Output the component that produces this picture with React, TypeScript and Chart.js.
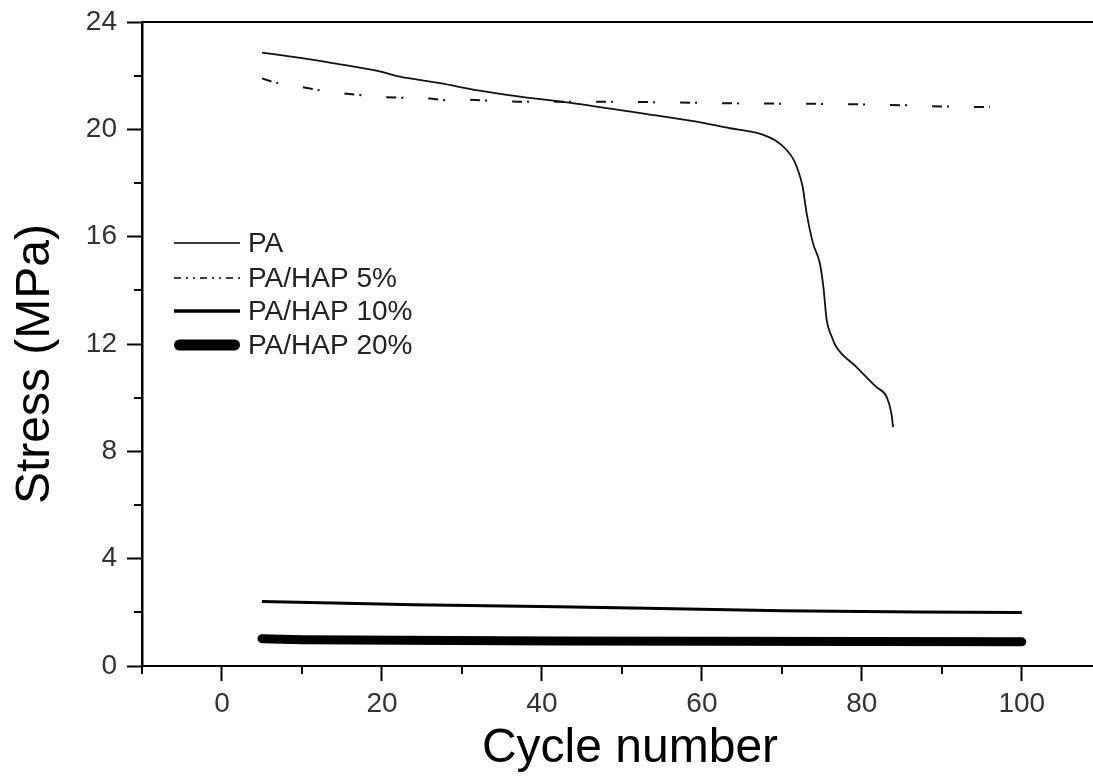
import React, { useEffect, useRef } from 'react';
import { Chart, registerables } from 'chart.js';

Chart.register(...registerables);

// ---- data ----
const paX = [5, 10, 14, 20, 22.25, 27.25, 32, 37.25, 44, 54, 60, 63.5, 66, 67.6, 69.2, 70.6, 71.5, 72.1, 72.6, 73.1, 73.9, 74.75, 75.2, 75.6, 76.2, 76.8, 79.3, 81.8, 83.1, 83.7, 83.9];
const paY = [22.86, 22.65, 22.46, 22.14, 21.96, 21.72, 21.45, 21.22, 20.97, 20.53, 20.25, 20.04, 19.92, 19.8, 19.58, 19.23, 18.85, 18.4, 17.86, 16.87, 15.75, 15.0, 14.1, 12.9, 12.3, 11.9, 11.15, 10.4, 10.03, 9.4, 8.9];

const hap5X = [5, 6.5, 10, 12, 15, 17, 20, 22, 26, 28, 31, 33, 37, 47, 52, 63, 74, 80, 85, 90, 96];
const hap5Y = [21.9, 21.75, 21.57, 21.47, 21.35, 21.28, 21.2, 21.18, 21.15, 21.08, 21.1, 21.07, 21.03, 21.03, 21.02, 20.97, 20.95, 20.93, 20.9, 20.85, 20.83];

const hap10X = [5, 11, 24, 42, 53, 70, 87, 100];
const hap10Y = [2.4, 2.37, 2.28, 2.21, 2.15, 2.06, 2.01, 1.99];

const hap20X = [5, 10, 41.6, 100];
const hap20Y = [1.02, 0.98, 0.93, 0.9];

const seriesLabels = ['PA', 'PA/HAP 5%', 'PA/HAP 10%', 'PA/HAP 20%'];

const xMajorTicks = [0, 20, 40, 60, 80, 100];
const xMinorTicks = [-10, 10, 30, 50, 70, 90];
const yMajorTicks = [0, 4, 8, 12, 16, 20, 24];
const yMinorTicks = [2, 6, 10, 14, 18, 22];

const xTitle = 'Cycle number';
const yTitle = 'Stress (MPa)';

const FONT = '"Liberation Sans", Arial, Helvetica, sans-serif';

const toPoints = (xs: number[], ys: number[]) => xs.map((x, i) => ({ x, y: ys[i] }));

// legend styles (visual only)
const legendStyles = [
  { width: 1.6, dash: [] as number[], cap: 'butt' as CanvasLineCap },
  { width: 1.6, dash: [7, 5, 2, 5, 2, 5], cap: 'butt' as CanvasLineCap },
  { width: 3.5, dash: [] as number[], cap: 'butt' as CanvasLineCap },
  { width: 11, dash: [] as number[], cap: 'round' as CanvasLineCap },
];

const decorPlugin = {
  id: 'decor',
  afterDraw(chart: any) {
    const ctx: CanvasRenderingContext2D = chart.ctx;
    const { left, right, top, bottom } = chart.chartArea;
    const xs = chart.scales.x;
    const ys = chart.scales.y;
    ctx.save();
    ctx.strokeStyle = '#000';
    // top frame line
    ctx.lineWidth = 2;
    ctx.beginPath();
    ctx.moveTo(left, top);
    ctx.lineTo(right, top);
    ctx.stroke();
    // minor ticks
    ctx.lineWidth = 2;
    ctx.beginPath();
    xMinorTicks.forEach((v) => {
      const px = Math.round(xs.getPixelForValue(v));
      ctx.moveTo(px, bottom);
      ctx.lineTo(px, bottom + 8);
    });
    yMinorTicks.forEach((v) => {
      const py = Math.round(ys.getPixelForValue(v));
      ctx.moveTo(left, py);
      ctx.lineTo(left - 8, py);
    });
    ctx.stroke();

    // axis titles
    ctx.fillStyle = '#000';
    ctx.font = `48px ${FONT}`;
    ctx.textAlign = 'center';
    ctx.textBaseline = 'middle';
    ctx.fillText(xTitle, 630, 749);
    ctx.save();
    ctx.translate(36, 364);
    ctx.rotate(-Math.PI / 2);
    ctx.fillText(yTitle, 0, 0);
    ctx.restore();

    // legend
    const rows = [243, 278, 311, 345];
    const lx0 = 174;
    const lx1 = 240;
    const tx = 248;
    ctx.font = `28px ${FONT}`;
    ctx.textBaseline = 'middle';
    ctx.textAlign = 'left';
    seriesLabels.forEach((label, i) => {
      const st = legendStyles[i];
      const y = rows[i];
      ctx.save();
      ctx.lineWidth = st.width;
      ctx.lineCap = st.cap;
      ctx.setLineDash(st.dash);
      ctx.strokeStyle = '#000';
      ctx.beginPath();
      ctx.moveTo(lx0 + (st.cap === 'round' ? st.width / 2 : 0), y);
      ctx.lineTo(lx1 - (st.cap === 'round' ? st.width / 2 : 0), y);
      ctx.stroke();
      ctx.restore();
      ctx.fillStyle = '#222';
      ctx.fillText(label, tx, y + 1);
    });
    ctx.restore();
  },
};

export default function App() {
  const canvasRef = useRef<HTMLCanvasElement | null>(null);

  useEffect(() => {
    document.body.style.margin = '0';
    const canvas = canvasRef.current;
    if (!canvas) return;
    Chart.defaults.font.family = FONT;

    const chart = new Chart(canvas, {
      type: 'line',
      data: {
        datasets: [
          {
            label: seriesLabels[0],
            data: toPoints(paX, paY),
            borderColor: '#111',
            borderWidth: 1.8,
            pointRadius: 0,
            cubicInterpolationMode: 'monotone',
          },
          {
            label: seriesLabels[1],
            data: toPoints(hap5X, hap5Y),
            borderColor: '#111',
            borderWidth: 2,
            borderDash: [10, 5, 2, 25],
            pointRadius: 0,
            tension: 0,
          },
          {
            label: seriesLabels[2],
            data: toPoints(hap10X, hap10Y),
            borderColor: '#000',
            borderWidth: 3,
            pointRadius: 0,
            tension: 0,
          },
          {
            label: seriesLabels[3],
            data: toPoints(hap20X, hap20Y),
            borderColor: '#000',
            borderWidth: 9,
            borderCapStyle: 'round',
            borderJoinStyle: 'round',
            pointRadius: 0,
            tension: 0,
          },
        ],
      },
      options: {
        responsive: false,
        maintainAspectRatio: false,
        animation: false,
        devicePixelRatio: 1,
        layout: { padding: { top: 22, right: 0, left: 0, bottom: 0 } },
        plugins: {
          legend: { display: false },
          tooltip: { enabled: false },
        },
        scales: {
          x: {
            type: 'linear',
            min: -10,
            max: 108.9,
            afterBuildTicks: (s: any) => {
              s.ticks = xMajorTicks.map((v) => ({ value: v }));
            },
            afterFit: (s: any) => {
              s.height = 110;
              s.paddingLeft = 0;
              s.paddingRight = 0;
            },
            grid: {
              display: true,
              drawOnChartArea: false,
              drawTicks: true,
              tickLength: 15,
              tickWidth: 2,
              tickColor: '#000',
            },
            border: { display: true, color: '#000', width: 2 },
            ticks: {
              autoSkip: false,
              maxRotation: 0,
              color: '#333',
              padding: 6,
              font: { size: 28, family: FONT },
            },
            title: { display: false },
          },
          y: {
            type: 'linear',
            min: 0,
            max: 24,
            afterBuildTicks: (s: any) => {
              s.ticks = yMajorTicks.map((v) => ({ value: v }));
            },
            afterFit: (s: any) => {
              s.width = 142;
              s.paddingTop = 0;
              s.paddingBottom = 0;
            },
            grid: {
              display: true,
              drawOnChartArea: false,
              drawTicks: true,
              tickLength: 15,
              tickWidth: 2,
              tickColor: '#000',
            },
            border: { display: true, color: '#000', width: 2.5 },
            ticks: {
              color: '#333',
              padding: 10,
              font: { size: 28, family: FONT },
            },
            title: { display: false },
          },
        },
      },
      plugins: [decorPlugin],
    });

    return () => {
      chart.destroy();
    };
  }, []);

  return (
    <div style={{ width: 1093, height: 776, position: 'relative', background: '#fff' }}>
      <canvas ref={canvasRef} width={1093} height={776} style={{ width: 1093, height: 776, display: 'block' }} />
    </div>
  );
}
